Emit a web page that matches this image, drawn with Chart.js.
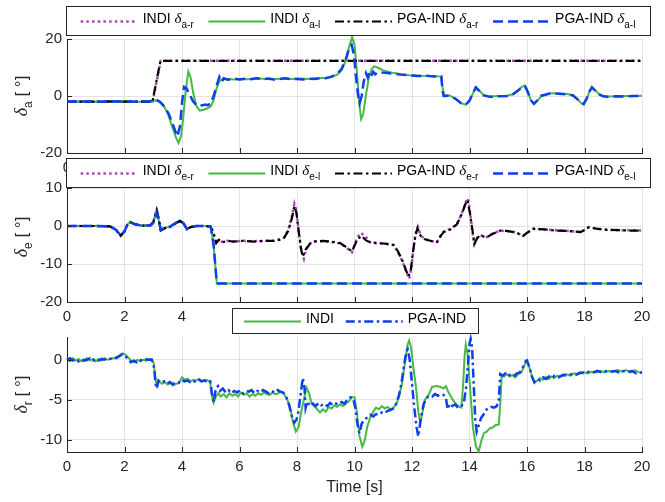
<!DOCTYPE html>
<html>
<head>
<meta charset="utf-8">
<script src="https://cdn.jsdelivr.net/npm/chart.js@4/dist/chart.umd.min.js"></script>
<style>
  html, body { margin: 0; padding: 0; background: #fff; }
  #wrap { position: relative; width: 665px; height: 502px; }
  #wrap canvas { position: absolute; left: 0; top: 0; }
</style>
</head>
<body>
<div id="wrap">
  <canvas id="c1" width="665" height="502"></canvas>
  <canvas id="c2" width="665" height="502"></canvas>
  <canvas id="c3" width="665" height="502"></canvas>
</div>
<script>
// ---- data: [time s, deflection deg] ----
const xTicks = [0, 2, 4, 6, 8, 10, 12, 14, 16, 18, 20];
const yTicksA = [-20, 0, 20];
const yTicksE = [-20, -10, 0, 10];
const yTicksR = [-10, -5, 0];

// aileron
const aRightIndi = [[0,-2.0],[0.5,-1.9],[1.0,-2.0],[1.5,-1.9],[2.0,-2.0],[2.5,-1.9],[2.98,-2.0],[3.26,12.4],[20,12.4]];
const aRightPga = [[0,-2.0],[0.8,-2.0],[1.6,-1.9],[2.4,-2.0],[2.97,-2.0],[3.25,12.3],[20,12.3]];
const aLeftIndi = [[0,-2.0],[0.5,-1.9],[1,-2.0],[1.5,-2.0],[2,-1.9],[2.5,-2.0],[2.9,-2.0],[3.05,-1.5],[3.2,-1.9],[3.35,-3.2],
  [3.5,-6.0],[3.65,-10.5],[3.8,-14.8],[3.88,-16.5],[3.97,-14.0],[4.05,-7.0],[4.13,2.0],[4.22,8.6],[4.3,6.5],[4.4,0.5],
  [4.5,-3.5],[4.62,-5.1],[4.75,-4.8],[4.9,-4.2],[5.0,-3.7],[5.1,-1.5],[5.2,2.5],[5.3,5.2],[5.4,5.9],[5.6,6.0],
  [5.8,5.8],[6.0,6.0],[6.3,5.9],[6.6,6.2],[6.9,6.0],[7.2,5.9],[7.5,6.1],[7.8,6.0],[8.1,6.1],[8.4,6.0],
  [8.7,6.2],[9.0,6.4],[9.2,6.7],[9.4,7.5],[9.55,9.0],[9.7,12.5],[9.82,17.5],[9.92,20.7],[10.0,18.0],[10.08,9.0],
  [10.16,-2.0],[10.23,-8.1],[10.3,-6.5],[10.4,0.5],[10.5,6.5],[10.6,9.5],[10.68,10.4],[10.8,10.0],[11.0,9.0],[11.3,8.2],
  [11.6,7.7],[11.9,7.3],[12.3,7.1],[12.7,7.0],[13.02,6.8],[13.06,3.0],[13.12,0.3],[13.3,0.2],[13.5,-0.8],[13.7,-2.4],
  [13.87,-3.1],[14.0,-1.8],[14.1,0.5],[14.22,3.1],[14.33,2.0],[14.5,0.3],[14.7,-0.2],[15.0,0.0],[15.3,0.1],[15.5,0.6],
  [15.7,2.0],[15.82,3.2],[15.93,3.7],[16.03,1.5],[16.13,-1.5],[16.24,-2.9],[16.35,-1.8],[16.5,0.0],[16.8,1.0],[17.1,0.9],
  [17.4,0.7],[17.6,0.3],[17.75,-1.0],[17.87,-2.4],[17.97,-3.0],[18.08,-1.0],[18.18,1.8],[18.26,3.2],[18.36,2.2],[18.5,0.7],
  [18.65,0.0],[18.8,-0.2],[19.1,-0.1],[19.4,0.0],[19.7,0.0],[20,0.1]];
const aLeftPga = [[0,-2.0],[0.6,-1.9],[1.2,-2.0],[1.8,-1.9],[2.4,-2.0],[2.9,-1.9],[3.05,-1.4],[3.12,-1.3],[3.25,-2.2],[3.4,-3.8],
  [3.55,-6.5],[3.7,-10.5],[3.84,-14.2],[3.93,-10.5],[4.0,-2.5],[4.07,3.2],[4.15,2.8],[4.25,0.8],[4.38,-1.8],[4.5,-3.2],
  [4.6,-3.0],[4.7,-3.3],[4.8,-3.0],[4.9,-3.2],[5.0,-2.6],[5.1,0.0],[5.2,3.5],[5.3,6.7],[5.38,5.0],[5.45,6.2],
  [5.6,5.7],[5.8,6.1],[6.0,5.8],[6.2,6.1],[6.4,5.9],[6.6,6.2],[6.8,5.9],[7.0,6.1],[7.2,5.8],[7.4,6.0],
  [7.6,6.2],[7.8,5.9],[8.0,6.0],[8.2,5.8],[8.4,6.1],[8.6,6.0],[8.8,6.2],[9.0,6.2],[9.2,6.8],[9.4,7.8],
  [9.55,9.5],[9.7,13.0],[9.82,17.0],[9.9,17.9],[9.98,14.5],[10.05,7.0],[10.12,0.5],[10.18,-2.5],[10.25,0.0],[10.32,5.0],
  [10.4,8.0],[10.46,6.5],[10.52,8.3],[10.58,7.0],[10.65,8.5],[10.72,7.6],[10.8,8.4],[11.0,8.2],[11.3,7.9],[11.6,7.5],
  [11.9,7.3],[12.2,7.0],[12.5,7.1],[12.8,6.8],[13.02,6.9],[13.06,2.0],[13.1,0.0],[13.3,0.1],[13.5,-0.9],[13.7,-2.5],
  [13.87,-3.0],[14.0,-1.6],[14.1,0.6],[14.22,3.0],[14.33,1.9],[14.5,0.2],[14.7,-0.3],[15.0,-0.1],[15.3,0.0],[15.5,0.5],
  [15.7,2.0],[15.82,3.0],[15.93,3.4],[16.03,1.3],[16.13,-1.4],[16.24,-2.7],[16.35,-1.6],[16.5,0.1],[16.8,0.9],[17.1,0.8],
  [17.4,0.6],[17.6,0.2],[17.75,-1.1],[17.87,-2.4],[17.97,-2.8],[18.08,-0.8],[18.18,1.7],[18.26,3.0],[18.36,2.0],[18.5,0.6],
  [18.65,-0.1],[18.8,-0.3],[19.1,-0.1],[19.4,-0.2],[19.7,0.0],[20,0.0]];

// elevator
const eRightIndi = [[0,0],[0.5,0],[1.0,0],[1.5,-0.1],[1.7,-1.0],[1.87,-2.6],[2.0,-1.5],[2.1,0.3],[2.19,1.1],[2.35,0.5],
  [2.6,0.1],[2.9,0.2],[3.0,1.0],[3.12,4.3],[3.2,1.5],[3.26,-1.2],[3.4,-0.6],[3.6,-0.2],[3.8,0.8],[3.93,1.4],
  [4.05,0.8],[4.17,-0.8],[4.3,-0.3],[4.5,0],[4.8,0],[4.98,-0.1],[5.08,-1.5],[5.19,-4.6],[5.28,-3.6],[5.4,-4.2],
  [5.57,-3.9],[5.8,-4.1],[6.1,-3.9],[6.5,-4.0],[6.9,-3.9],[7.2,-3.9],[7.4,-3.5],[7.55,-3.0],[7.7,-1.0],[7.82,2.5],
  [7.91,5.8],[7.98,4.0],[8.06,-1.5],[8.14,-6.0],[8.24,-8.6],[8.32,-6.0],[8.46,-4.6],[8.6,-4.0],[8.9,-4.0],[9.2,-4.2],
  [9.5,-4.6],[9.7,-5.6],[9.91,-6.9],[10.0,-5.0],[10.1,-3.0],[10.22,-1.8],[10.35,-2.5],[10.55,-4.3],[10.8,-4.6],[11.01,-4.6],
  [11.2,-4.8],[11.36,-5.0],[11.5,-6.7],[11.65,-9.0],[11.8,-12.0],[11.9,-13.9],[11.98,-11.0],[12.05,-6.0],[12.12,-2.0],[12.2,-0.2],
  [12.3,-2.4],[12.45,-3.5],[12.7,-4.0],[12.87,-4.3],[13.0,-2.5],[13.1,-1.5],[13.33,-0.8],[13.56,0.5],[13.73,3.3],[13.88,6.5],
  [13.95,7.3],[14.03,3.0],[14.1,-1.5],[14.17,-4.8],[14.28,-3.0],[14.38,-2.4],[14.5,-2.9],[14.61,-2.9],[14.8,-2.0],[15.07,-1.2],
  [15.3,-1.4],[15.54,-1.6],[15.7,-2.0],[15.86,-2.7],[16.0,-1.8],[16.23,-0.7],[16.6,-0.9],[17.0,-1.1],[17.4,-1.3],[17.86,-1.6],
  [18.0,-1.0],[18.15,-0.3],[18.4,-0.7],[18.78,-1.0],[19.2,-1.1],[19.6,-1.1],[20,-1.2]];
const eRightPga = [[0,0],[0.5,0],[1.0,0],[1.5,-0.1],[1.7,-1.0],[1.87,-2.5],[2.0,-1.4],[2.1,0.3],[2.19,1.0],[2.35,0.5],
  [2.6,0.1],[2.9,0.2],[3.0,1.0],[3.12,4.2],[3.2,1.5],[3.26,-1.2],[3.4,-0.6],[3.6,-0.2],[3.8,0.8],[3.93,1.3],
  [4.05,0.8],[4.17,-0.8],[4.3,-0.3],[4.5,0],[4.8,0],[4.98,-0.1],[5.08,-1.4],[5.19,-4.5],[5.28,-3.6],[5.4,-4.3],
  [5.57,-3.9],[5.8,-4.1],[6.1,-3.9],[6.5,-4.1],[6.9,-3.9],[7.2,-3.9],[7.4,-3.6],[7.55,-3.1],[7.7,-1.2],[7.82,2.0],
  [7.91,5.2],[7.98,3.5],[8.06,-1.5],[8.14,-6.0],[8.2,-8.1],[8.3,-6.2],[8.46,-4.6],[8.6,-4.1],[8.9,-3.9],[9.2,-4.1],
  [9.5,-4.5],[9.7,-5.5],[9.91,-6.7],[10.0,-5.2],[10.1,-3.5],[10.25,-2.6],[10.4,-3.8],[10.55,-4.3],[10.8,-4.5],[11.01,-4.6],
  [11.2,-4.8],[11.36,-5.0],[11.5,-6.5],[11.65,-8.8],[11.8,-11.8],[11.88,-13.3],[11.96,-11.5],[12.04,-6.5],[12.12,-2.5],[12.19,-0.6],
  [12.3,-2.6],[12.45,-3.5],[12.7,-4.0],[12.87,-4.2],[13.0,-2.6],[13.1,-1.6],[13.33,-0.9],[13.56,0.4],[13.73,3.1],[13.87,6.0],
  [13.93,6.8],[14.02,3.2],[14.1,-1.0],[14.17,-4.6],[14.28,-3.1],[14.38,-2.4],[14.5,-2.8],[14.61,-2.9],[14.8,-2.1],[15.07,-1.2],
  [15.3,-1.3],[15.54,-1.6],[15.7,-2.0],[15.86,-2.6],[16.0,-1.8],[16.23,-0.7],[16.6,-0.9],[17.0,-1.2],[17.4,-1.3],[17.86,-1.6],
  [18.0,-1.1],[18.15,-0.3],[18.4,-0.7],[18.78,-1.0],[19.2,-1.1],[19.6,-1.2],[20,-1.2]];
const eLeftIndi = [[0,0],[0.5,0],[1.0,0],[1.5,-0.1],[1.7,-1.0],[1.87,-2.5],[2.0,-1.4],[2.1,0.4],[2.19,1.1],[2.35,0.6],
  [2.6,0.1],[2.9,0.1],[3.0,0.8],[3.12,3.5],[3.2,1.2],[3.26,-1.0],[3.4,-0.5],[3.6,-0.1],[3.8,0.9],[3.93,1.4],
  [4.05,0.7],[4.17,-0.8],[4.3,-0.3],[4.5,0],[4.8,0],[5.0,-0.2],[5.1,-5.0],[5.21,-15.1],[20,-15.1]];
const eLeftPga = [[0,0],[0.5,0],[1.0,0],[1.5,-0.1],[1.7,-1.0],[1.87,-2.5],[2.0,-1.4],[2.1,0.4],[2.19,1.0],[2.35,0.5],
  [2.6,0.1],[2.9,0.1],[3.0,0.8],[3.12,3.4],[3.2,1.2],[3.26,-1.0],[3.4,-0.5],[3.6,-0.1],[3.8,0.9],[3.93,1.3],
  [4.05,0.7],[4.17,-0.8],[4.3,-0.3],[4.5,0],[4.8,0],[5.0,-0.2],[5.1,-5.0],[5.21,-15.1],[20,-15.1]];

// rudder
const rIndi = [[0,0.1],[0.1,-0.2],[0.2,0.2],[0.3,-0.1],[0.4,0.1],[0.5,-0.2],[0.6,0.0],[0.7,0.2],[0.8,-0.1],[0.9,0.1],
  [1.0,-0.2],[1.1,0.1],[1.2,-0.1],[1.3,0.2],[1.4,0.0],[1.5,0.1],[1.6,0.2],[1.7,0.3],[1.8,0.5],[1.95,0.8],
  [2.05,0.6],[2.15,0.2],[2.25,-0.2],[2.35,-0.3],[2.45,0.0],[2.55,-0.2],[2.65,0.0],[2.75,-0.1],[2.85,0.1],[2.95,0.1],
  [3.02,-0.5],[3.08,-2.5],[3.14,-3.3],[3.2,-2.7],[3.3,-3.0],[3.4,-2.8],[3.5,-3.1],[3.6,-2.9],[3.7,-3.2],[3.8,-3.0],
  [3.9,-2.9],[4.0,-2.2],[4.1,-2.5],[4.2,-2.4],[4.3,-2.7],[4.4,-2.5],[4.5,-2.6],[4.6,-2.4],[4.7,-2.7],[4.8,-2.5],
  [4.9,-2.6],[4.98,-2.8],[5.04,-4.5],[5.1,-5.4],[5.18,-4.6],[5.26,-4.2],[5.35,-4.6],[5.45,-4.3],[5.55,-4.7],[5.65,-4.2],
  [5.75,-4.5],[5.85,-4.3],[5.95,-4.6],[6.05,-4.1],[6.15,-4.4],[6.25,-4.2],[6.35,-4.6],[6.45,-4.3],[6.55,-4.5],[6.65,-4.2],
  [6.75,-4.4],[6.85,-4.1],[6.95,-4.3],[7.05,-4.4],[7.15,-4.1],[7.25,-4.3],[7.35,-4.2],[7.45,-4.0],[7.55,-4.3],[7.65,-4.9],
  [7.75,-5.8],[7.85,-7.6],[7.96,-9.0],[8.05,-8.5],[8.15,-6.5],[8.25,-4.8],[8.33,-3.5],[8.42,-4.2],[8.5,-5.4],[8.6,-5.8],
  [8.7,-6.2],[8.8,-6.6],[8.9,-6.2],[9.0,-6.5],[9.1,-5.9],[9.2,-6.1],[9.3,-5.7],[9.4,-5.9],[9.5,-5.6],[9.6,-5.8],
  [9.7,-5.5],[9.8,-5.2],[9.9,-4.7],[10.0,-4.7],[10.08,-6.5],[10.17,-9.5],[10.27,-10.9],[10.35,-10.2],[10.45,-8.3],[10.55,-7.2],
  [10.65,-6.5],[10.75,-6.0],[10.85,-6.2],[10.95,-5.8],[11.05,-6.1],[11.15,-5.9],[11.25,-6.2],[11.35,-6.0],[11.45,-5.6],[11.55,-4.6],
  [11.65,-3.0],[11.75,-0.5],[11.84,1.8],[11.9,2.4],[11.97,1.5],[12.05,-1.0],[12.14,-3.5],[12.22,-6.5],[12.29,-7.9],[12.37,-6.5],
  [12.45,-5.0],[12.58,-4.4],[12.7,-3.4],[12.85,-3.3],[13.0,-3.4],[13.1,-3.6],[13.18,-3.3],[13.26,-4.0],[13.35,-4.6],[13.45,-5.2],
  [13.55,-5.6],[13.65,-5.9],[13.72,-6.0],[13.78,-3.0],[13.83,0.5],[13.87,1.9],[13.93,0.8],[14.02,-3.5],[14.12,-8.5],[14.22,-10.8],
  [14.32,-11.5],[14.4,-10.3],[14.5,-9.2],[14.6,-9.0],[14.7,-8.6],[14.8,-8.5],[14.9,-8.2],[15.02,-8.1],[15.07,-5.5],[15.12,-2.0],
  [15.2,-2.1],[15.3,-1.8],[15.4,-2.1],[15.5,-1.9],[15.6,-2.2],[15.7,-1.8],[15.8,-1.6],[15.9,-0.8],[15.98,-0.1],[16.05,-0.6],
  [16.15,-1.8],[16.25,-2.9],[16.35,-2.6],[16.45,-2.3],[16.55,-2.5],[16.65,-2.2],[16.75,-2.4],[16.85,-2.1],[16.95,-2.3],[17.05,-2.0],
  [17.2,-2.1],[17.35,-1.8],[17.5,-2.0],[17.65,-1.7],[17.8,-1.8],[17.95,-1.5],[18.1,-1.7],[18.25,-1.5],[18.4,-1.6],[18.55,-1.4],
  [18.7,-1.6],[18.85,-1.4],[19.0,-1.5],[19.15,-1.3],[19.3,-1.5],[19.45,-1.3],[19.6,-1.6],[19.75,-1.3],[19.9,-1.6],[20,-1.5]];
const rPga = [[0,0.0],[0.1,0.2],[0.2,-0.1],[0.3,0.1],[0.4,-0.2],[0.5,0.1],[0.6,-0.1],[0.7,0.0],[0.8,0.2],[0.9,-0.1],
  [1.0,0.1],[1.1,-0.1],[1.2,0.1],[1.3,0.0],[1.4,0.2],[1.5,0.1],[1.6,0.3],[1.7,0.2],[1.8,0.4],[1.92,0.7],
  [2.02,0.5],[2.12,0.1],[2.22,-0.3],[2.32,-0.1],[2.42,-0.3],[2.52,0.0],[2.62,-0.1],[2.72,0.1],[2.82,0.0],[2.95,0.0],
  [3.03,-1.0],[3.08,-3.0],[3.12,-3.6],[3.18,-2.6],[3.28,-2.9],[3.38,-2.7],[3.48,-3.0],[3.58,-2.8],[3.68,-3.1],[3.78,-2.8],
  [3.88,-2.9],[3.98,-2.5],[4.08,-2.7],[4.18,-2.6],[4.28,-2.8],[4.38,-2.6],[4.48,-2.8],[4.58,-2.5],[4.68,-2.7],[4.78,-2.6],
  [4.88,-2.8],[4.98,-2.7],[5.04,-4.2],[5.1,-5.3],[5.18,-3.6],[5.25,-3.3],[5.32,-3.9],[5.42,-3.6],[5.52,-4.1],[5.62,-3.8],
  [5.72,-4.2],[5.82,-3.9],[5.92,-4.1],[6.02,-3.8],[6.12,-4.2],[6.22,-3.9],[6.32,-4.0],[6.42,-3.8],[6.52,-4.2],[6.62,-3.9],
  [6.72,-4.1],[6.82,-3.8],[6.92,-4.0],[7.02,-4.2],[7.12,-3.9],[7.22,-4.1],[7.32,-3.8],[7.42,-4.0],[7.52,-4.1],[7.62,-4.6],
  [7.72,-5.6],[7.82,-7.0],[7.9,-7.9],[7.98,-7.5],[8.05,-6.5],[8.12,-4.5],[8.2,-2.3],[8.26,-3.5],[8.3,-6.0],[8.36,-5.2],
  [8.45,-5.8],[8.55,-5.5],[8.65,-5.8],[8.75,-5.4],[8.85,-5.7],[8.95,-5.5],[9.05,-5.8],[9.15,-5.4],[9.25,-5.7],[9.35,-5.5],
  [9.45,-5.6],[9.55,-5.3],[9.65,-5.5],[9.75,-5.0],[9.85,-4.7],[9.95,-4.8],[10.03,-6.0],[10.1,-8.0],[10.17,-9.2],[10.25,-8.0],
  [10.35,-7.5],[10.45,-7.2],[10.55,-6.9],[10.65,-7.1],[10.75,-6.8],[10.85,-6.9],[10.95,-6.6],[11.05,-6.7],[11.15,-6.4],[11.25,-6.3],
  [11.35,-6.1],[11.45,-5.5],[11.55,-4.4],[11.63,-3.0],[11.72,-0.8],[11.8,1.0],[11.85,1.3],[11.92,0.0],[12.0,-3.0],[12.08,-6.0],
  [12.16,-8.5],[12.22,-9.6],[12.3,-7.5],[12.4,-5.6],[12.5,-4.8],[12.6,-4.5],[12.7,-4.6],[12.8,-4.3],[12.9,-4.5],[13.0,-4.3],
  [13.1,-4.4],[13.18,-4.8],[13.24,-6.2],[13.3,-5.5],[13.4,-5.8],[13.5,-5.6],[13.6,-6.0],[13.7,-5.8],[13.8,-5.5],[13.88,-3.5],
  [13.95,-0.5],[14.0,2.0],[14.04,2.6],[14.09,1.5],[14.14,-2.5],[14.2,-7.5],[14.25,-9.0],[14.32,-8.2],[14.4,-7.3],[14.5,-6.8],
  [14.58,-6.3],[14.65,-6.0],[14.75,-5.9],[14.85,-6.0],[14.95,-5.8],[15.02,-5.0],[15.07,-1.8],[15.15,-2.0],[15.25,-1.7],[15.35,-2.0],
  [15.45,-1.8],[15.55,-2.0],[15.65,-1.7],[15.75,-1.6],[15.85,-1.0],[15.95,-0.2],[16.0,-0.1],[16.08,-0.9],[16.18,-2.2],[16.26,-2.8],
  [16.36,-2.4],[16.46,-2.6],[16.56,-2.2],[16.66,-2.4],[16.76,-2.1],[16.86,-2.3],[16.96,-2.0],[17.1,-2.2],[17.25,-1.9],[17.4,-2.0],
  [17.55,-1.8],[17.7,-1.9],[17.85,-1.6],[18.0,-1.7],[18.15,-1.5],[18.3,-1.6],[18.45,-1.4],[18.6,-1.6],[18.75,-1.4],[18.9,-1.5],
  [19.05,-1.4],[19.2,-1.6],[19.35,-1.4],[19.5,-1.5],[19.65,-1.4],[19.8,-1.7],[20,-1.6]];

// ---- look ----
const axisColor = '#262626';
const gridColor = '#e3e3e3';
const sans = '"Liberation Sans", Arial, Helvetica, sans-serif';
const magenta = '#a846b6', green = '#45b845', blue = '#0c3ef2';

const dotted = { borderColor: magenta, borderWidth: 2.5, borderDash: [2.5, 3.2] };
const solid = { borderColor: green, borderWidth: 2, borderDash: [] };
const dashDotK = { borderColor: '#000', borderWidth: 2.2, borderDash: [9, 3.5, 2.5, 3.5] };
const dashedB = { borderColor: blue, borderWidth: 2.5, borderDash: [10, 5] };
const dashDotB = { borderColor: blue, borderWidth: 2.5, borderDash: [9, 3.5, 2.5, 3.5] };

function ds(points, style, label) {
  return Object.assign({
    label: label,
    data: points.map(p => ({ x: p[0], y: p[1] })),
    pointRadius: 0, tension: 0, fill: false, clip: 4
  }, style);
}

// draw text made of pieces: n = normal, i = italic greek, s = subscript
function richParts(ctx, parts, size, draw, x, y) {
  let cx = x;
  for (const [txt, st] of parts) {
    if (st === 'i') ctx.font = 'italic ' + (size + 1) + 'px "Liberation Serif", serif';
    else if (st === 's') ctx.font = Math.round(size * 0.72) + 'px ' + sans;
    else ctx.font = size + 'px ' + sans;
    if (draw) ctx.fillText(txt, cx, st === 's' ? y + size * 0.42 : y);
    cx += ctx.measureText(txt).width;
  }
  return cx - x;
}

const matlabLook = {
  id: 'matlabLook',
  afterDraw(chart, args, o) {
    const { ctx, chartArea: a, scales: { x, y } } = chart;
    ctx.save();
    // inward tick marks
    ctx.strokeStyle = axisColor;
    ctx.lineWidth = 1;
    ctx.setLineDash([]);
    ctx.beginPath();
    x.ticks.forEach(t => {
      const px = Math.round(x.getPixelForValue(t.value)) + 0.5;
      ctx.moveTo(px, a.bottom); ctx.lineTo(px, a.bottom - 5);
    });
    y.ticks.forEach(t => {
      const py = Math.round(y.getPixelForValue(t.value)) + 0.5;
      ctx.moveTo(a.left, py); ctx.lineTo(a.left + 5, py);
    });
    ctx.stroke();

    // y label (rotated, with subscript)
    ctx.fillStyle = axisColor;
    ctx.textBaseline = 'middle';
    ctx.save();
    ctx.translate(22, (a.top + a.bottom) / 2 + (o.labelShift || 0));
    ctx.rotate(-Math.PI / 2);
    const w = richParts(ctx, o.yLabel, 17, false, 0, 0);
    richParts(ctx, o.yLabel, 17, true, -w / 2, 0);
    ctx.restore();

    // x label
    if (o.xLabel) {
      ctx.font = '16px ' + sans;
      ctx.textAlign = 'center';
      ctx.fillText(o.xLabel, (a.left + a.right) / 2, 488);
      ctx.textAlign = 'left';
    }

    // legend box
    const b = o.box;
    ctx.fillStyle = '#fff';
    ctx.fillRect(b[0], b[1], b[2] - b[0], b[3] - b[1]);
    ctx.strokeStyle = axisColor;
    ctx.strokeRect(b[0] + 0.5, b[1] + 0.5, b[2] - b[0], b[3] - b[1]);
    const lineLen = 57, gap = 5;
    const widths = o.items.map(it => lineLen + gap + richParts(ctx, it.text, 14, false, 0, 0));
    const free = (b[2] - b[0]) - widths.reduce((s, v) => s + v, 0);
    const space = free / (o.items.length + 1);
    const cy = (b[1] + b[3]) / 2;
    let cx = b[0] + space;
    o.items.forEach((it, i) => {
      const d = chart.data.datasets[it.ds];
      ctx.strokeStyle = d.borderColor;
      ctx.lineWidth = d.borderWidth;
      ctx.setLineDash(d.borderDash || []);
      ctx.beginPath();
      ctx.moveTo(cx, cy + 1); ctx.lineTo(cx + lineLen, cy + 1);
      ctx.stroke();
      ctx.fillStyle = '#000';
      richParts(ctx, it.text, 14, true, cx + lineLen + gap, cy - 1);
      cx += widths[i] + space;
    });
    ctx.restore();
  }
};

function panel(id, datasets, yMin, yMax, yTicks, pad, look) {
  return new Chart(document.getElementById(id), {
    type: 'line',
    data: { datasets: datasets },
    options: {
      responsive: false,
      animation: false,
      devicePixelRatio: 1,
      layout: { padding: pad },
      plugins: { legend: { display: false }, tooltip: { enabled: false }, matlabLook: look },
      scales: {
        x: {
          type: 'linear', min: 0, max: 20,
          afterBuildTicks: s => { s.ticks = xTicks.map(v => ({ value: v })); },
          afterFit: s => { s.height = 25; },
          grid: { color: gridColor, drawTicks: false },
          border: { color: axisColor },
          ticks: { font: { family: sans, size: 15 }, color: axisColor, padding: 6, autoSkip: false, maxRotation: 0 }
        },
        y: {
          type: 'linear', min: yMin, max: yMax,
          afterBuildTicks: s => { s.ticks = yTicks.map(v => ({ value: v })); },
          afterFit: s => { s.width = 67; },
          grid: { color: gridColor, drawTicks: false },
          border: { color: axisColor },
          ticks: { font: { family: sans, size: 15 }, color: axisColor, padding: 5 }
        }
      }
    },
    plugins: [matlabLook]
  });
}

panel('c1', [
  ds(aLeftPga, dashedB, 'PGA-IND a-l'),
  ds(aRightPga, dashDotK, 'PGA-IND a-r'),
  ds(aLeftIndi, solid, 'INDI a-l'),
  ds(aRightIndi, dotted, 'INDI a-r')
], -20, 20, yTicksA, { left: 0, right: 23, top: 39, bottom: 502 - 153 - 25 }, {
  yLabel: [['δ', 'i'], ['a', 's'], [' [ °]', 'n']],
  box: [66, 6, 650, 35],
  items: [
    { ds: 3, text: [['INDI ', 'n'], ['δ', 'i'], ['a-r', 's']] },
    { ds: 2, text: [['INDI ', 'n'], ['δ', 'i'], ['a-l', 's']] },
    { ds: 1, text: [['PGA-IND ', 'n'], ['δ', 'i'], ['a-r', 's']] },
    { ds: 0, text: [['PGA-IND ', 'n'], ['δ', 'i'], ['a-l', 's']] }
  ]
});

panel('c2', [
  ds(eLeftPga, dashedB, 'PGA-IND e-l'),
  ds(eRightPga, dashDotK, 'PGA-IND e-r'),
  ds(eLeftIndi, solid, 'INDI e-l'),
  ds(eRightIndi, dotted, 'INDI e-r')
], -20, 10, yTicksE, { left: 0, right: 23, top: 188, bottom: 502 - 302 - 25 }, {
  yLabel: [['δ', 'i'], ['e', 's'], [' [ °]', 'n']],
  labelShift: -8,
  box: [66, 158, 650, 187],
  items: [
    { ds: 3, text: [['INDI ', 'n'], ['δ', 'i'], ['e-r', 's']] },
    { ds: 2, text: [['INDI ', 'n'], ['δ', 'i'], ['e-l', 's']] },
    { ds: 1, text: [['PGA-IND ', 'n'], ['δ', 'i'], ['e-r', 's']] },
    { ds: 0, text: [['PGA-IND ', 'n'], ['δ', 'i'], ['e-l', 's']] }
  ]
});

panel('c3', [
  ds(rPga, dashDotB, 'PGA-IND'),
  ds(rIndi, solid, 'INDI')
], -11.55, 2.85, yTicksR, { left: 0, right: 23, top: 337, bottom: 502 - 452 - 25 }, {
  yLabel: [['δ', 'i'], ['r', 's'], [' [ °]', 'n']],
  xLabel: 'Time [s]',
  box: [232, 308, 478, 333],
  items: [
    { ds: 1, text: [['INDI', 'n']] },
    { ds: 0, text: [['PGA-IND', 'n']] }
  ]
});
</script>
</body>
</html>
